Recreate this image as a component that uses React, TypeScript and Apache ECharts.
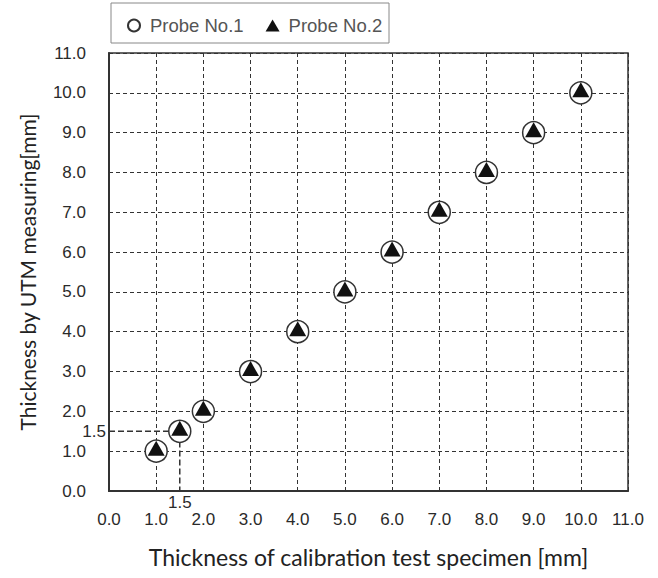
import React, { useEffect, useRef } from "react";
import * as echarts from "echarts";

const calibThickness = [1.0, 1.5, 2.0, 3.0, 4.0, 5.0, 6.0, 7.0, 8.0, 9.0, 10.0];
const probe1Values = [1.0, 1.5, 2.0, 3.0, 4.0, 5.0, 6.0, 7.0, 8.0, 9.0, 10.0];
const probe2Values = [1.0, 1.5, 2.0, 3.0, 4.0, 5.0, 6.0, 7.0, 8.0, 9.0, 10.0];
const seriesNames = ["Probe No.1", "Probe No.2"];
const refValue = 1.5;
const axisMin = 0;
const axisMax = 11;
const axisInterval = 1;
const xTitle = "Thickness of calibration test specimen [mm]";
const yTitle = "Thickness by UTM measuring[mm]";

export default function App() {
  const ref = useRef<HTMLDivElement>(null);
  useEffect(() => {
    if (!ref.current) return;
    const chart = echarts.init(ref.current, null, { renderer: "svg" });
    const tickFont = { fontFamily: "Liberation Sans", fontSize: 17, color: "#2a2a2a" };
    const gridLine = { show: true, lineStyle: { color: "#333", type: [4, 3] as any, width: 1 } };
    chart.setOption({
      animation: false,
      backgroundColor: "#fff",
      grid: { left: 109, top: 53, right: 30, bottom: 87, show: true, borderColor: "#333", borderWidth: 1.5, backgroundColor: "transparent" },
      legend: {
        left: 122,
        top: 11,
        data: seriesNames,
        itemWidth: 14,
        itemHeight: 12,
        itemGap: 22,
        textStyle: { fontFamily: "Liberation Sans", fontSize: 18.5, color: "#555", padding: [0, 0, 0, 4] },
      },
      graphic: [
        { type: "rect", shape: { x: 111, y: 3, width: 278, height: 40 }, style: { fill: "none", stroke: "#888", lineWidth: 1 }, z: -1 },
      ],
      xAxis: {
        type: "value",
        min: axisMin,
        max: axisMax,
        interval: axisInterval,
        axisLine: { show: true, onZero: false, lineStyle: { color: "#333", width: 2 } },
        axisTick: { show: false },
        axisLabel: { ...tickFont, margin: 20, formatter: (v: number) => v.toFixed(1) },
        splitLine: gridLine,
        name: xTitle,
        nameLocation: "middle",
        nameGap: 54,
        nameTextStyle: { fontFamily: "Lato", fontSize: 23, color: "#222" },
      },
      yAxis: {
        type: "value",
        min: axisMin,
        max: axisMax,
        interval: axisInterval,
        axisLine: { show: true, onZero: false, lineStyle: { color: "#333", width: 2 } },
        axisTick: { show: false },
        axisLabel: { ...tickFont, margin: 23, formatter: (v: number) => v.toFixed(1) },
        splitLine: gridLine,
        name: yTitle,
        nameLocation: "middle",
        nameGap: 71,
        nameTextStyle: { fontFamily: "Lato", fontSize: 21, color: "#222" },
      },
      series: [
        {
          type: "line",
          silent: true,
          symbol: "none",
          data: [[axisMin, refValue], [refValue, refValue], [refValue, axisMin]],
          lineStyle: { color: "#333", width: 1.5, type: [6, 3] as any },
          z: 1,
        },
        {
          type: "scatter",
          silent: true,
          symbolSize: 0,
          data: [[axisMin, refValue]],
          label: { show: true, position: "left", distance: 3, formatter: "1.5", ...tickFont, textBorderWidth: 0, opacity: 1 },
          itemStyle: { opacity: 1 },
        },
        {
          type: "scatter",
          silent: true,
          symbolSize: 0,
          data: [[refValue, axisMin]],
          label: { show: true, position: "bottom", distance: 3, formatter: "1.5", ...tickFont, textBorderWidth: 0, opacity: 1 },
          itemStyle: { opacity: 1 },
        },
        {
          name: seriesNames[0],
          type: "scatter",
          symbol: "circle",
          symbolSize: 22,
          data: calibThickness.map((x, i) => [x, probe1Values[i]]),
          itemStyle: { color: "#fff", borderColor: "#333", borderWidth: 1.5, opacity: 1 },
          z: 3,
        },
        {
          name: seriesNames[1],
          type: "scatter",
          symbol: "triangle",
          symbolSize: [17, 15],
          symbolOffset: [0, -3],
          data: calibThickness.map((x, i) => [x, probe2Values[i]]),
          itemStyle: { color: "#111", opacity: 1 },
          z: 4,
        },
      ],
    });
    return () => chart.dispose();
  }, []);
  return <div ref={ref} style={{ width: 658, height: 578, position: "absolute", left: 0, top: 0 }} />;
}
